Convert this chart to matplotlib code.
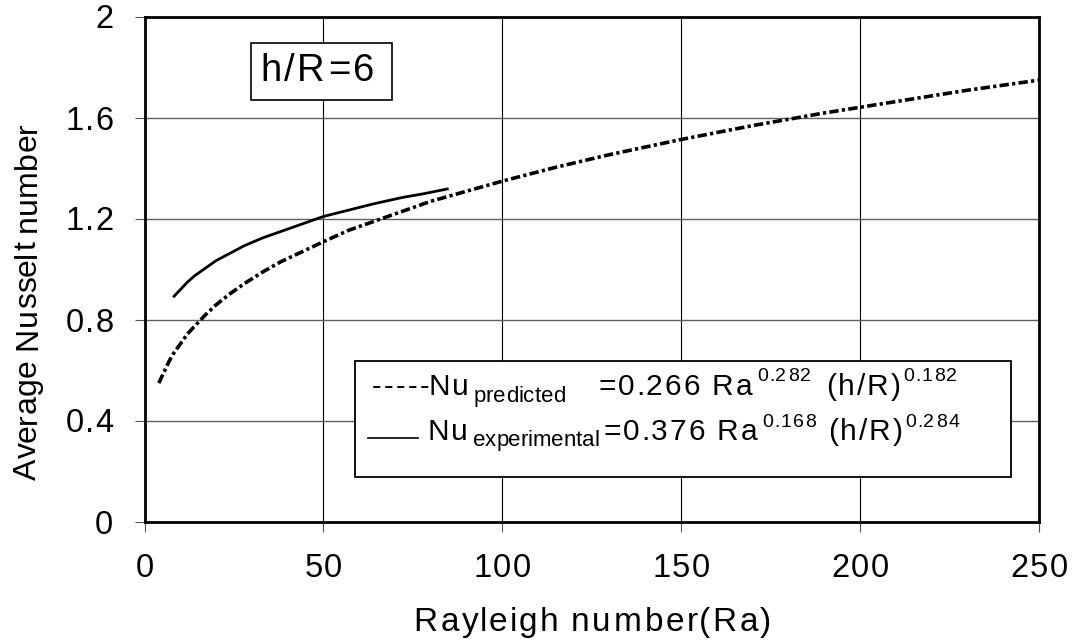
import numpy as np
import matplotlib
matplotlib.use("Agg")
import matplotlib.pyplot as plt
from matplotlib import font_manager as fm
from matplotlib.ft2font import FT2Font
from matplotlib.patches import Rectangle
from matplotlib.lines import Line2D

# ---------------- data ----------------
ra_predicted = [4, 5, 6, 7, 8, 9, 10, 12, 14, 17, 20, 24, 28, 33, 38, 44, 50,
                57, 64, 72, 80, 90, 100, 115, 130, 150, 170, 190, 210, 230, 250]
nu_predicted = [0.55, 0.58, 0.61, 0.64, 0.665, 0.685, 0.705, 0.745, 0.775,
                0.82, 0.86, 0.905, 0.945, 0.99, 1.03, 1.07, 1.11, 1.155, 1.19,
                1.23, 1.27, 1.31, 1.35, 1.405, 1.455, 1.515, 1.57, 1.62, 1.665,
                1.71, 1.75]

ra_experimental = [8, 9, 10, 12, 14, 17, 20, 24, 28, 33, 38, 44, 50, 57, 64,
                   72, 78, 85]
nu_experimental = [0.89, 0.905, 0.92, 0.95, 0.975, 1.005, 1.035, 1.065, 1.095,
                   1.125, 1.15, 1.18, 1.21, 1.235, 1.26, 1.285, 1.30, 1.32]

x_ticks = [0, 50, 100, 150, 200, 250]
y_ticks = [0, 0.4, 0.8, 1.2, 1.6, 2.0]
y_tick_labels = ["0", "0.4", "0.8", "1.2", "1.6", "2"]

x_label = "Rayleigh number(Ra)"
y_label = "Average Nusselt number"
box_label = "h/R=6"

# ---------------- figure ----------------
W, H = 1078, 640
fig = plt.figure(figsize=(W / 100, H / 100), dpi=100)
AX_L, AX_R, AX_T, AX_B = 144.5, 1039, 17, 522
ax = fig.add_axes([AX_L / W, 1 - AX_B / H, (AX_R - AX_L) / W, (AX_B - AX_T) / H])


def fx(x):
    return x / W


def fy(y):
    return 1 - y / H


FONT = "Liberation Sans"
_fpath = fm.findfont(fm.FontProperties(family=FONT))
_ft = FT2Font(_fpath, hinting_factor=1)


def adv_px(s, size):
    _ft.set_size(size, 100)
    return [_ft.load_char(ord(c)).linearHoriAdvance / 65536.0 for c in s]


def track(s, x, y, size, width=None, stretch=1.0, ha="left", vertical=False,
          zorder=6):
    """Draw text with slightly spread glyph positions (pixel coords, y from top)."""
    a = adv_px(s, size)
    total = sum(a)
    if width is not None:
        stretch = width / total
    tw = total * stretch
    if ha == "left":
        start = 0.0
    elif ha == "right":
        start = -tw
    else:
        start = -tw / 2
    cum = 0.0
    for c, w in zip(s, a):
        off = start + stretch * (cum + w / 2)
        cum += w
        if c == " ":
            continue
        if not vertical:
            fig.text(fx(x + off), fy(y), c, ha="center", va="baseline",
                     fontsize=size, family=FONT, color="black", zorder=zorder)
        else:
            fig.text(fx(x), fy(y - off), c, ha="center", va="baseline",
                     rotation=90, rotation_mode="anchor",
                     fontsize=size, family=FONT, color="black", zorder=zorder)


# ---------------- curves ----------------
ax.plot(ra_predicted, nu_predicted, color="black", lw=2.6,
        dashes=(2.6, 0.9, 0.9, 0.9), dash_capstyle="butt", zorder=3)
ax.plot(ra_experimental, nu_experimental, color="black", lw=2.0,
        solid_capstyle="butt", zorder=3)

ax.set_xlim(0, 250)
ax.set_ylim(0, 2)
ax.set_xticks(x_ticks)
ax.set_yticks(y_ticks)
ax.tick_params(labelbottom=False, labelleft=False, direction="out",
               length=7, width=0.8, color="#555555")
ax.grid(axis="x", color="black", lw=0.8, zorder=1)
ax.grid(axis="y", color="#606060", lw=1.0, zorder=1)
ax.set_axisbelow(True)
for sp in ax.spines.values():
    sp.set_linewidth(2.0)
    sp.set_color("black")

# ---------------- tick labels ----------------
fig.canvas.draw()
for v in x_ticks:
    dx, dy = ax.transData.transform((v, 0))
    track(str(v), dx, 577, 23.5, stretch=1.07, ha="center")
for v, lbl in zip(y_ticks, y_tick_labels):
    dx, dy = ax.transData.transform((0, v))
    track(lbl, 114, (H - dy) + 11.5, 23.5, stretch=1.06, ha="right")

# axis labels
track(x_label, 412, 631, 24, width=360)
track(y_label, 36, 480, 23, width=358, vertical=True)

# ---------------- h/R box ----------------
fig.add_artist(Rectangle((fx(251), fy(100)), (392 - 251) / W, (100 - 43) / H,
                         transform=fig.transFigure, facecolor="white",
                         edgecolor="black", lw=1.2, zorder=4))
track(box_label, 259, 81, 27.5, width=117)

# ---------------- legend box ----------------
fig.add_artist(Rectangle((fx(355), fy(477)), (1011 - 355) / W, (477 - 361) / H,
                         transform=fig.transFigure, facecolor="white",
                         edgecolor="black", lw=1.3, zorder=4))
# row 1
track("-----", 371, 395, 21, width=60)
track("Nu", 428, 395, 21.5, width=41)
track("predicted", 473, 402, 16, width=93)
track("=0.266 Ra", 597, 395, 21.5, width=156)
track("0.282", 756, 381, 14, width=56)
track("(h/R)", 826, 395, 21.5, width=75)
track("0.182", 902, 381, 14, width=56)
# row 2
fig.add_artist(Line2D([fx(368), fx(418)], [fy(438), fy(438)],
                      transform=fig.transFigure, color="black", lw=1.2,
                      zorder=6))
track("Nu", 427, 440, 21.5, width=41)
track("experimental", 473, 446, 16, width=126)
track("=0.376 Ra", 602, 440, 21.5, width=156)
track("0.168", 761, 427, 14, width=56)
track("(h/R)", 828, 440, 21.5, width=75)
track("0.284", 904, 427, 14, width=56)

fig.savefig("out.png", dpi=100, facecolor="white")
